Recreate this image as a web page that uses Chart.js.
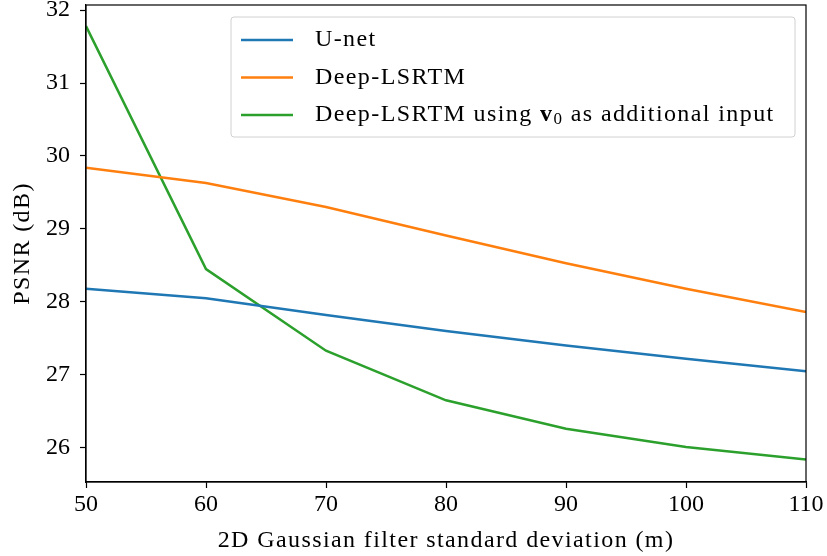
<!DOCTYPE html>
<html>
<head>
<meta charset="utf-8">
<script src="https://cdn.jsdelivr.net/npm/chart.js@4"></script>
<style>
  html, body { margin: 0; padding: 0; background: #fff; }
  #wrap { width: 827px; height: 556px; }
</style>
</head>
<body>
<div id="wrap"><canvas id="chartPsnr"></canvas></div>
<script>
  const sigmas = [50, 60, 70, 80, 90, 100, 110];
  const unet = [28.18, 28.05, 27.82, 27.60, 27.40, 27.22, 27.05];
  const deepLsrtm = [29.84, 29.63, 29.30, 28.91, 28.53, 28.18, 27.86];
  const deepLsrtmV0 = [31.78, 28.45, 27.33, 26.65, 26.26, 26.01, 25.84];
  const seriesLabels = ['U-net', 'Deep-LSRTM', 'Deep-LSRTM using v\u2080 as additional input'];
  const seriesColors = ['#1f77b4', '#ff7f0e', '#2ca02c'];
  const yTicks = [26, 27, 28, 29, 30, 31, 32];
  const xTicks = [50, 60, 70, 80, 90, 100, 110];
  const xTitle = '2D Gaussian filter standard deviation (m)';
  const yTitle = 'PSNR (dB)';

  const serif = "'Liberation Serif', 'DejaVu Serif', serif";
  const fontPx = 24;

  function toPoints(arr) {
    return sigmas.map(function (s, i) { return { x: s, y: arr[i] }; });
  }

  // frame, axis titles and legend box (drawn by hand to get the bold v0)
  const framePlugin = {
    id: 'frame',
    afterDraw: function (chart) {
      const ctx = chart.ctx;
      const a = chart.chartArea;
      ctx.save();
      ctx.strokeStyle = '#000';
      ctx.lineWidth = 1.2;
      ctx.strokeRect(a.left, a.top, a.right - a.left, a.bottom - a.top);

      ctx.fillStyle = '#000';
      ctx.font = fontPx + 'px ' + serif;
      ctx.letterSpacing = '1.4px';
      ctx.textAlign = 'center';
      ctx.textBaseline = 'middle';
      ctx.fillText(xTitle, (a.left + a.right) / 2, 541);
      ctx.save();
      ctx.translate(23, (a.top + a.bottom) / 2);
      ctx.rotate(-Math.PI / 2);
      ctx.fillText(yTitle, 0, 0);
      ctx.restore();

      // legend
      const bx = 231, by = 17, bw = 564, bh = 120;
      ctx.fillStyle = 'rgba(255,255,255,0.8)';
      ctx.strokeStyle = '#d0d0d0';
      ctx.lineWidth = 1;
      ctx.beginPath();
      ctx.roundRect(bx, by, bw, bh, 3);
      ctx.fill();
      ctx.stroke();

      ctx.textAlign = 'left';
      chart.data.datasets.forEach(function (ds, i) {
        const yy = by + 23 + i * 37.5;
        ctx.strokeStyle = ds.borderColor;
        ctx.lineWidth = 2.5;
        ctx.beginPath();
        ctx.moveTo(bx + 10, yy);
        ctx.lineTo(bx + 62, yy);
        ctx.stroke();
        ctx.fillStyle = '#000';
        ctx.font = fontPx + 'px ' + serif;
        if (i === 2) {
          let x = bx + 84;
          const pre = 'Deep-LSRTM using ';
          ctx.fillText(pre, x, yy);
          x += ctx.measureText(pre).width;
          ctx.font = 'bold ' + fontPx + 'px ' + serif;
          ctx.fillText('v', x, yy);
          x += ctx.measureText('v').width;
          ctx.font = '17px ' + serif;
          ctx.fillText('0', x, yy + 5);
          x += ctx.measureText('0').width;
          ctx.font = fontPx + 'px ' + serif;
          ctx.fillText(' as additional input', x, yy);
        } else {
          ctx.fillText(ds.label, bx + 84, yy);
        }
      });
      ctx.restore();
    }
  };

  const configPsnr = {
    type: 'line',
    data: {
      datasets: [unet, deepLsrtm, deepLsrtmV0].map(function (arr, i) {
        return {
          label: seriesLabels[i],
          data: toPoints(arr),
          borderColor: seriesColors[i],
          backgroundColor: seriesColors[i],
          borderWidth: 2.5,
          pointRadius: 0,
          tension: 0,
          fill: false
        };
      })
    },
    options: {
      responsive: true,
      maintainAspectRatio: false,
      animation: false,
      events: [],
      layout: { padding: { top: 5, right: 21, left: 0, bottom: 0 } },
      plugins: {
        legend: { display: false },
        tooltip: { enabled: false }
      },
      scales: {
        x: {
          type: 'linear',
          min: 50,
          max: 110,
          afterBuildTicks: function (axis) {
            axis.ticks = xTicks.map(function (v) { return { value: v }; });
          },
          afterFit: function (axis) {
            axis.height = 74;
            axis.paddingLeft = 0;
            axis.paddingRight = 0;
          },
          grid: { drawOnChartArea: false, drawTicks: true, tickLength: 6, tickColor: '#000', tickWidth: 1.2 },
          border: { color: '#000', width: 1.2 },
          ticks: { color: '#000', font: { family: serif, size: fontPx }, padding: 2, maxRotation: 0 }
        },
        y: {
          min: 25.53,
          max: 32.07,
          afterBuildTicks: function (axis) {
            axis.ticks = yTicks.map(function (v) { return { value: v }; });
          },
          afterFit: function (axis) {
            axis.width = 86;
            axis.paddingTop = 0;
            axis.paddingBottom = 0;
          },
          grid: { drawOnChartArea: false, drawTicks: true, tickLength: 6, tickColor: '#000', tickWidth: 1.2 },
          border: { color: '#000', width: 1.2 },
          ticks: { color: '#000', font: { family: serif, size: fontPx }, padding: 10 }
        }
      }
    },
    plugins: [framePlugin]
  };

  var chartPsnr = new Chart(document.getElementById('chartPsnr'), configPsnr);
</script>
</body>
</html>
